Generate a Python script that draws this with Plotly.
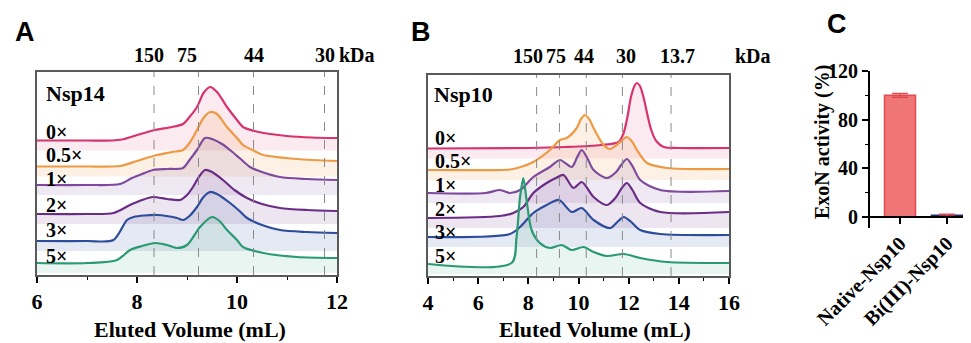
import plotly.graph_objects as go

# ---------------- Panel A : Nsp14 SEC traces (relative absorbance, stacked) -------------
a_labels = ["0×", "0.5×", "1×", "2×", "3×", "5×"]
a_x0 = [6.0, 7.0, 7.5, 7.7, 8.0, 8.36, 8.7, 8.92, 9.05, 9.2, 9.33, 9.46, 9.6, 9.8, 10.0, 10.12, 10.35, 10.53, 11.0, 11.5, 12.0]
a_y0 = [134.5, 134.5, 134.5, 135.5, 140, 145, 148, 151, 158, 168, 182, 188, 183, 168, 155, 148, 144, 142, 139, 137.5, 137]
a_x05 = [6.0, 7.0, 7.66, 8.0, 8.4, 8.7, 8.92, 9.05, 9.2, 9.33, 9.46, 9.6, 9.8, 10.0, 10.12, 10.35, 10.53, 11.2, 12.0]
a_y05 = [108.5, 108.5, 109, 114, 120, 123, 125, 132, 145, 157, 163, 161, 148, 137, 130, 124, 120, 116, 114]
a_x1 = [6.0, 7.0, 7.66, 7.9, 8.1, 8.32, 8.6, 8.92, 9.05, 9.2, 9.36, 9.5, 9.7, 9.86, 10.05, 10.26, 10.5, 10.86, 11.4, 12.0]
a_y1 = [90, 90, 91, 97, 101, 105, 106, 107, 115, 125, 137, 136, 131, 125, 117, 108, 103, 98, 96, 95]
a_x2 = [6.0, 7.0, 7.53, 7.86, 8.1, 8.32, 8.6, 8.86, 9.0, 9.12, 9.25, 9.36, 9.5, 9.72, 9.95, 10.2, 10.5, 10.86, 11.4, 12.0]
a_y2 = [61, 61, 62, 70, 75, 78, 76, 75, 80, 88, 99, 105, 103, 95, 85, 77, 71, 67, 65, 64]
a_x3 = [6.0, 7.0, 7.53, 7.8, 7.93, 8.4, 8.8, 8.92, 9.05, 9.2, 9.33, 9.46, 9.6, 9.86, 10.05, 10.2, 10.5, 10.86, 11.4, 12.0]
a_y3 = [34, 34, 35, 55, 58, 60, 57, 55, 59, 68, 78, 83, 81, 72, 64, 57, 50, 45, 43, 42]
a_x5 = [6.0, 7.0, 7.6, 7.86, 8.1, 8.36, 8.6, 8.8, 9.0, 9.15, 9.26, 9.5, 9.65, 9.8, 10.0, 10.12, 10.53, 11.2, 12.0]
a_y5 = [12, 12, 15, 25, 29, 32, 30, 27, 30, 40, 48, 58, 54, 45, 35, 28, 22, 18, 17]
a_std_vol = [8.34, 9.23, 10.33, 11.75]
a_std_kda = ["150", "75", "44", "30"]

# ---------------- Panel B : Nsp10 SEC traces -------------
b_labels = ["0×", "0.5×", "1×", "2×", "3×", "5×"]
b_x0 = [4.0, 8.0, 9.5, 10.9, 11.6, 11.8, 11.95, 12.1, 12.25, 12.33, 12.45, 12.6, 12.75, 12.9, 13.1, 13.4, 14.0, 16.0]
b_y0 = [127.5, 128, 129, 131, 134, 143, 159, 180, 191, 193, 190, 178, 161, 146, 135, 129, 128, 128]
b_x05 = [4.0, 7.0, 7.27, 7.7, 8.2, 8.86, 9.26, 9.53, 9.93, 10.1, 10.26, 10.45, 10.6, 11.0, 11.26, 11.66, 11.93, 12.15, 12.33, 12.73, 13.53, 16.0]
b_y05 = [106, 106, 106.5, 109, 114, 126, 136, 138, 148, 157, 161, 156, 148, 131, 127, 134, 139, 134, 126, 113, 108, 107]
b_x1 = [4.0, 6.3, 6.87, 7.27, 7.67, 8.2, 8.86, 9.26, 9.73, 9.95, 10.13, 10.35, 10.6, 11.13, 11.5, 11.7, 11.93, 12.15, 12.46, 13.26, 16.0]
b_y1 = [83, 83, 86, 83, 86, 99, 109, 116, 109, 119, 126, 118, 106, 98, 104, 111, 117, 110, 96, 86, 85]
b_x2 = [4.0, 6.87, 7.4, 7.8, 8.2, 8.73, 9.1, 9.4, 9.8, 10.13, 10.6, 11.13, 11.5, 11.7, 11.93, 12.15, 12.46, 13.26, 16.0]
b_y2 = [58, 60, 63, 69, 83, 93, 98, 101, 88, 94, 79, 71, 79, 87, 93, 86, 73, 64, 64]
b_x3 = [4.0, 7.27, 7.67, 8.2, 8.73, 9.22, 9.73, 10.13, 10.6, 11.26, 11.55, 11.8, 12.1, 12.46, 13.26, 16.0]
b_y3 = [39, 42, 49, 63, 71, 76, 64, 68, 56, 48, 54, 59, 54, 46, 42, 41]
b_x5 = [4.0, 7.33, 7.53, 7.67, 7.8, 7.93, 8.13, 8.46, 8.86, 9.33, 9.73, 10.2, 10.6, 11.13, 11.8, 12.46, 13.53, 16.0]
b_y5 = [12, 13, 39, 79, 98, 76, 46, 33, 28, 31, 26, 29, 24, 20, 22, 18, 14, 13]
b_std_vol = [8.33, 9.24, 10.31, 11.75, 13.69]
b_std_kda = ["150", "75", "44", "30", "13.7"]

# ---------------- Panel C : ExoN activity -------------
c_cats = ["Native-Nsp10", "Bi(III)-Nsp10"]
c_vals = [100, 1.5]
c_err = [1.5, 0.8]

# ---------------- styling ----------------
colors = ["#d8336f", "#ee9a45", "#7d4a9e", "#6a2d86", "#2c4d9c", "#2a9a72"]
fills = ["rgba(216,51,111,0.10)", "rgba(238,154,69,0.14)", "rgba(125,74,158,0.12)",
         "rgba(106,45,134,0.12)", "rgba(44,77,156,0.12)", "rgba(42,154,114,0.10)"]
SERIF = "Liberation Serif"
SANS = "Liberation Sans"
OFF = 8                      # page body margin
W, H = 971 - OFF, 343 - OFF  # figure size that fits the window


def px(x):
    return (x - OFF) / W


def py(y):
    return 1 - (y - OFF) / H


fig = go.Figure()


def add_panel(xs, ys, xa, ya, drop):
    for i, (x, y) in enumerate(zip(xs, ys)):
        base = min(y) - drop
        fig.add_trace(go.Scatter(x=[x[0], x[-1]], y=[base, base], mode="lines",
                                 line=dict(width=0), hoverinfo="skip", showlegend=False,
                                 xaxis=xa, yaxis=ya))
        fig.add_trace(go.Scatter(x=x, y=y, mode="lines", line=dict(width=0, shape="spline", smoothing=0.8),
                                 fill="tonexty", fillcolor=fills[i], hoverinfo="skip",
                                 showlegend=False, xaxis=xa, yaxis=ya))
    for i, (x, y) in enumerate(zip(xs, ys)):
        fig.add_trace(go.Scatter(x=x, y=y, mode="lines",
                                 line=dict(color=colors[i], width=2.2, shape="spline", smoothing=0.8),
                                 showlegend=False, xaxis=xa, yaxis=ya))


add_panel([a_x0, a_x05, a_x1, a_x2, a_x3, a_x5], [a_y0, a_y05, a_y1, a_y2, a_y3, a_y5], "x", "y", 10)
add_panel([b_x0, b_x05, b_x1, b_x2, b_x3, b_x5], [b_y0, b_y05, b_y1, b_y2, b_y3, b_y5], "x2", "y2", 10)

fig.add_trace(go.Bar(x=c_cats, y=c_vals, width=0.66,
                     marker=dict(color=["#f07676", "#2a3a80"], line=dict(color=["#e04a50", "#1c2a6a"], width=1.5)),
                     error_y=dict(type="data", array=c_err, color="#e04a50", thickness=1.5, width=8),
                     showlegend=False, xaxis="x3", yaxis="y3"))

frame = "#5a5a5a"
tickfont = dict(family=SERIF, size=22, color="black", weight="bold")

common_x = dict(showline=True, linecolor=frame, linewidth=1.5, mirror=True, ticks="outside",
                ticklen=6, tickwidth=1.5, tickcolor="black", tickfont=tickfont, showgrid=False,
                zeroline=False, automargin=False)
common_y = dict(showline=True, linecolor=frame, linewidth=1.5, mirror=True, showticklabels=False,
                ticks="", showgrid=False, zeroline=False, automargin=False)

fig.update_layout(
    width=W, height=H, margin=dict(l=0, r=0, t=0, b=0, autoexpand=False),
    paper_bgcolor="white", plot_bgcolor="white",
    xaxis=dict(domain=[px(37), px(337)], range=[6, 12], tickvals=[6, 8, 10, 12], anchor="y",
               minor=dict(dtick=1, tick0=6, ticks="outside", ticklen=3, tickcolor="black", tickwidth=1.2),
               **common_x),
    yaxis=dict(domain=[py(275), py(72)], range=[0, 203], anchor="x", **common_y),
    xaxis2=dict(domain=[px(428), px(729)], range=[4, 16], tickvals=[4, 6, 8, 10, 12, 14, 16], anchor="y2",
                minor=dict(dtick=1, tick0=4, ticks="outside", ticklen=3, tickcolor="black", tickwidth=1.2),
                **common_x),
    yaxis2=dict(domain=[py(276), py(75)], range=[0, 201], anchor="x2", **common_y),
    xaxis3=dict(domain=[px(870), 1.0], range=[-0.638, 1.511], anchor="free", position=py(217),
                showline=True, linecolor="black", linewidth=1.8, ticks="outside", ticklen=6,
                tickwidth=1.5, tickcolor="black", tickangle=-45, automargin=False,
                tickfont=dict(family=SERIF, size=20, color="black", weight="bold"),
                showgrid=False, zeroline=False),
    yaxis3=dict(domain=[py(228), py(71)], range=[-9, 120], anchor="x3", tickvals=[0, 40, 80, 120],
                showline=True, linecolor="black", linewidth=1.8, ticks="outside", ticklen=6,
                tickwidth=1.5, tickcolor="black", automargin=False,
                minor=dict(tickvals=[20, 60, 100], ticks="outside", ticklen=3, tickcolor="black", tickwidth=1.2),
                tickfont=dict(family=SERIF, size=20, color="black", weight="bold"),
                showgrid=False, zeroline=False),
)

for v in a_std_vol:
    fig.add_shape(type="line", x0=v, x1=v, y0=0, y1=1, xref="x", yref="y domain",
                  line=dict(color="#8a8a8a", width=1, dash="dash"))
for v in b_std_vol:
    fig.add_shape(type="line", x0=v, x1=v, y0=0, y1=1, xref="x2", yref="y2 domain",
                  line=dict(color="#8a8a8a", width=1, dash="dash"))

labfont = dict(family=SERIF, size=20, color="black", weight="bold")
rowfont = dict(family=SERIF, size=20, color="black", weight="bold")
ann = []
a_lab_px = [149, 186.5, 254, 325]
for t, xx in zip(a_std_kda, a_lab_px):
    ann.append(dict(x=px(xx), y=py(55), xref="paper", yref="paper", text=t, showarrow=False, font=labfont,
                    xanchor="center", yanchor="middle"))
ann.append(dict(x=px(337), y=py(55), xref="paper", yref="paper", text="kDa", showarrow=False, font=labfont,
                xanchor="left", yanchor="middle"))
b_lab_px = [527.5, 556, 583.5, 626, 677.5]
for t, xx in zip(b_std_kda, b_lab_px):
    ann.append(dict(x=px(xx), y=py(56), xref="paper", yref="paper", text=t, showarrow=False, font=labfont,
                    xanchor="center", yanchor="middle"))
ann.append(dict(x=px(733), y=py(56), xref="paper", yref="paper", text="kDa", showarrow=False, font=labfont,
                xanchor="left", yanchor="middle"))

a_lab_y = [132, 155, 179, 205, 230, 256]
for t, yy in zip(a_labels, a_lab_y):
    ann.append(dict(x=px(44), y=py(yy), xref="paper", yref="paper", text=t, showarrow=False,
                    font=rowfont, xanchor="left", yanchor="middle"))
b_lab_y = [138, 161, 185, 209, 232, 256]
for t, yy in zip(b_labels, b_lab_y):
    ann.append(dict(x=px(433), y=py(yy), xref="paper", yref="paper", text=t, showarrow=False,
                    font=rowfont, xanchor="left", yanchor="middle"))
ann.append(dict(x=px(44), y=py(93), xref="paper", yref="paper", text="Nsp14", showarrow=False,
                font=dict(family=SERIF, size=22, color="black", weight="bold"), xanchor="left", yanchor="middle"))
ann.append(dict(x=px(432), y=py(94), xref="paper", yref="paper", text="Nsp10", showarrow=False,
                font=dict(family=SERIF, size=22, color="black", weight="bold"), xanchor="left", yanchor="middle"))

titlefont = dict(family=SERIF, size=22, color="black", weight="bold")
ann.append(dict(x=px(190), y=py(329), xref="paper", yref="paper", text="Eluted Volume (mL)",
                showarrow=False, font=titlefont, xanchor="center", yanchor="middle"))
ann.append(dict(x=px(595), y=py(329), xref="paper", yref="paper", text="Eluted Volume (mL)",
                showarrow=False, font=titlefont, xanchor="center", yanchor="middle"))
ann.append(dict(x=px(822), y=py(142), xref="paper", yref="paper", text="ExoN activity (%)",
                showarrow=False, textangle=-90, font=dict(family=SERIF, size=20, color="black", weight="bold"),
                xanchor="center", yanchor="middle"))

letter_font = dict(family=SANS, size=27, color="black", weight="bold")
for t, xx, yy in [("A", 25, 32), ("B", 421, 32), ("C", 837, 24)]:
    ann.append(dict(x=px(xx), y=py(yy), xref="paper", yref="paper", text=t, showarrow=False,
                    font=letter_font, xanchor="center", yanchor="middle"))

fig.update_layout(annotations=ann)
fig.write_html("out.html")
